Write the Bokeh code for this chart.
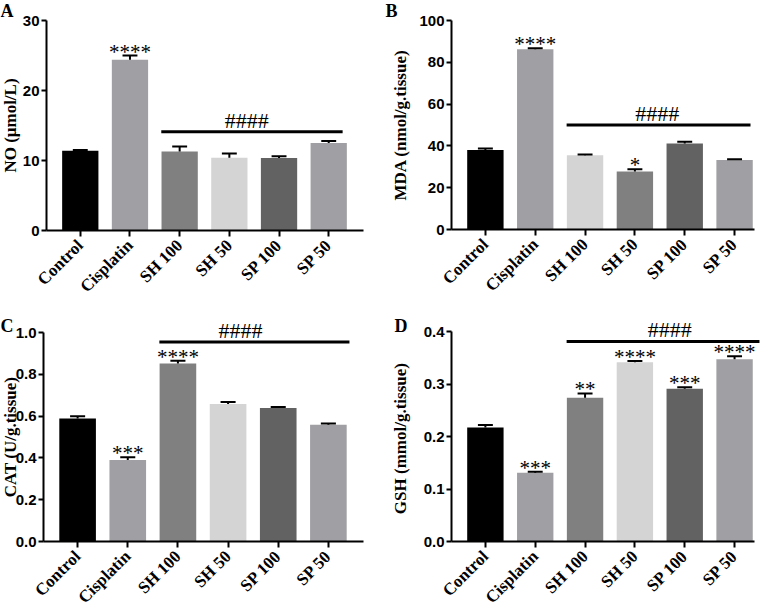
import numpy as np
from bokeh.plotting import figure
from bokeh.layouts import column, row
from bokeh.models import Range1d, FixedTicker, Label, ColumnDataSource
from bokeh.core.properties import value
from bokeh.embed import file_html
from bokeh.resources import INLINE

categories = ["Control", "Cisplatin", "SH 100", "SH 50", "SP 100", "SP 50"]

# Panel A: NO
no_mean = [11.4, 24.4, 11.3, 10.4, 10.35, 12.5]
no_err = [11.5, 25.0, 12.0, 11.0, 10.6, 12.8]
no_stars = ["", "****", "", "", "", ""]
no_colors = ["#000000", "#a0a0a4", "#808080", "#d4d4d4", "#626262", "#a0a0a4"]

# Panel B: MDA
mda_mean = [38.0, 86.2, 35.5, 27.8, 41.2, 33.3]
mda_err = [38.8, 86.7, 35.9, 28.8, 42.0, 33.6]
mda_stars = ["", "****", "", "*", "", ""]
mda_colors = ["#000000", "#a0a0a4", "#d4d4d4", "#808080", "#626262", "#a0a0a4"]

# Panel C: CAT
cat_mean = [0.588, 0.390, 0.852, 0.658, 0.639, 0.559]
cat_err = [0.599, 0.403, 0.865, 0.667, 0.644, 0.565]
cat_stars = ["", "***", "****", "", "", ""]
cat_colors = ["#000000", "#a0a0a4", "#808080", "#d4d4d4", "#626262", "#a0a0a4"]

# Panel D: GSH
gsh_mean = [0.217, 0.131, 0.274, 0.3415, 0.291, 0.347]
gsh_err = [0.222, 0.133, 0.282, 0.344, 0.294, 0.353]
gsh_stars = ["", "***", "**", "****", "***", "****"]
gsh_colors = ["#000000", "#a0a0a4", "#808080", "#d4d4d4", "#626262", "#a0a0a4"]

# "####" bracket level per panel (y value) and label centre (category index)
bracket_y = [14.1, 50.0, 0.955, 0.381]
hash_x = [3.35, 3.45, 3.25, 3.7]

y_ticks_a = [0, 10, 20, 30]
y_ticks_b = [0, 20, 40, 60, 80, 100]
y_ticks_c = [0.0, 0.2, 0.4, 0.6, 0.8, 1.0]
y_ticks_d = [0.0, 0.1, 0.2, 0.3, 0.4]

SERIF = "Liberation Serif"
SANS = "Liberation Sans"
X_START = -0.68


def panel(letter, ylabel, means, errs, stars, colors, yticks, ytick_fmt, by, hx,
          fig_w, axis_x, axis_len, x_end, fig_h, top_px, plot_h, bracket_end,
          letter_x, letter_top, ylabel_x):
    n = len(categories)
    idx = list(range(n))
    ymax = yticks[-1]
    ppu_x = axis_len / (x_end - X_START)
    xr0 = X_START - axis_x / ppu_x
    xr1 = x_end + (fig_w - axis_x - axis_len) / ppu_x
    ppu_y = plot_h / ymax
    bottom_px = fig_h - top_px - plot_h
    yr0 = -bottom_px / ppu_y
    yr1 = ymax + top_px / ppu_y
    p = figure(frame_width=fig_w, frame_height=fig_h, output_backend="svg",
               toolbar_location=None, min_border_left=0, min_border_top=0,
               min_border_right=0, min_border_bottom=0,
               x_range=Range1d(xr0, xr1), y_range=Range1d(yr0, yr1))
    p.outline_line_color = None
    p.grid.visible = False
    p.background_fill_color = "white"
    p.border_fill_color = "white"

    src = ColumnDataSource(dict(x=idx, top=means, err=errs, stars=stars, color=colors,
                                x0=[i - 0.15 for i in idx], x1=[i + 0.15 for i in idx]))
    p.vbar(x="x", top="top", bottom=0, width=0.73, fill_color="color", line_color=None, source=src)
    p.segment(x0="x", y0="top", x1="x", y1="err", line_color="black", line_width=2, source=src)
    p.segment(x0="x0", y0="err", x1="x1", y1="err", line_color="black", line_width=2, source=src)
    p.text(x="x", y="err", text="stars", text_align="center", text_baseline="bottom",
           y_offset=8, text_font=value(SERIF), text_font_size="21px", text_color="black",
           source=src)

    # #### bracket from SH 100 to SP 50
    p.segment(x0=[2 - 0.37], y0=[by], x1=[bracket_end], y1=[by], line_color="black", line_width=3)
    p.text(x=[hx], y=[by], text=["####"], text_align="center", text_baseline="bottom",
           y_offset=1, text_font=value(SERIF), text_font_size="22px", text_color="black")

    xa = p.xaxis[0]
    xa.fixed_location = 0
    xa.ticker = FixedTicker(ticks=idx)
    xa.bounds = (X_START, x_end)
    xa.major_label_overrides = {i: c for i, c in enumerate(categories)}
    xa.major_label_orientation = np.pi / 4
    xa.major_label_text_font = SERIF
    xa.major_label_text_font_style = "bold"
    xa.major_label_text_font_size = "17px"
    xa.major_label_text_color = "black"
    xa.axis_line_width = 2
    xa.major_tick_line_width = 2
    xa.major_tick_out = 6
    xa.major_tick_in = 0
    xa.minor_tick_line_color = None
    xa.major_label_standoff = 6

    ya = p.yaxis[0]
    ya.fixed_location = X_START
    ya.bounds = (0, ymax)
    ya.ticker = FixedTicker(ticks=yticks)
    ya.major_label_overrides = {t: ytick_fmt.format(t) for t in yticks}
    ya.major_label_text_font = SANS
    ya.major_label_text_font_style = "bold"
    ya.major_label_text_font_size = "15px"
    ya.major_label_text_color = "black"
    ya.axis_line_width = 2
    ya.major_tick_line_width = 2
    ya.major_tick_out = 5
    ya.major_tick_in = 0
    ya.minor_tick_line_color = None
    ya.major_label_standoff = 2

    # y-axis title, centred on the axis
    p.add_layout(Label(x=ylabel_x, y=bottom_px + plot_h / 2, x_units="screen", y_units="screen",
                       text=ylabel, angle=np.pi / 2, text_align="center", text_baseline="middle",
                       text_font=SERIF, text_font_style="bold", text_font_size="17px",
                       text_color="black"))
    # panel letter
    p.add_layout(Label(x=letter_x, y=fig_h - letter_top, x_units="screen", y_units="screen",
                       text=letter, text_font=SERIF, text_font_style="bold",
                       text_baseline="top", text_font_size="18px", text_color="black"))
    return p


pa = panel("A", "NO (μmol/L)", no_mean, no_err, no_stars, no_colors, y_ticks_a, "{:.0f}",
           bracket_y[0], hash_x[0], 380, 46, 317, 5.7, 300, 20, 210, 5.28, 0, 0, 10)
pb = panel("B", "MDA (nmol/g.tissue)", mda_mean, mda_err, mda_stars, mda_colors, y_ticks_b, "{:.0f}",
           bracket_y[1], hash_x[1], 381, 71, 303, 5.4, 300, 20, 209, 5.32, 5, 0, 20)
pc = panel("C", "CAT (U/g.tissue)", cat_mean, cat_err, cat_stars, cat_colors, y_ticks_c, "{:.1f}",
           bracket_y[2], hash_x[2], 380, 43, 320, 5.7, 306, 32, 209, 5.42, 0, 15, 10)
pd_ = panel("D", "GSH  (mmol/g.tissue)", gsh_mean, gsh_err, gsh_stars, gsh_colors, y_ticks_d, "{:.1f}",
            bracket_y[3], hash_x[3], 381, 71, 303, 5.4, 306, 31, 210, 5.5, 14, 15, 20)

layout = column(row(pa, pb, spacing=0), row(pc, pd_, spacing=0), spacing=0)
open("out.html", "w").write(file_html(layout, INLINE))
